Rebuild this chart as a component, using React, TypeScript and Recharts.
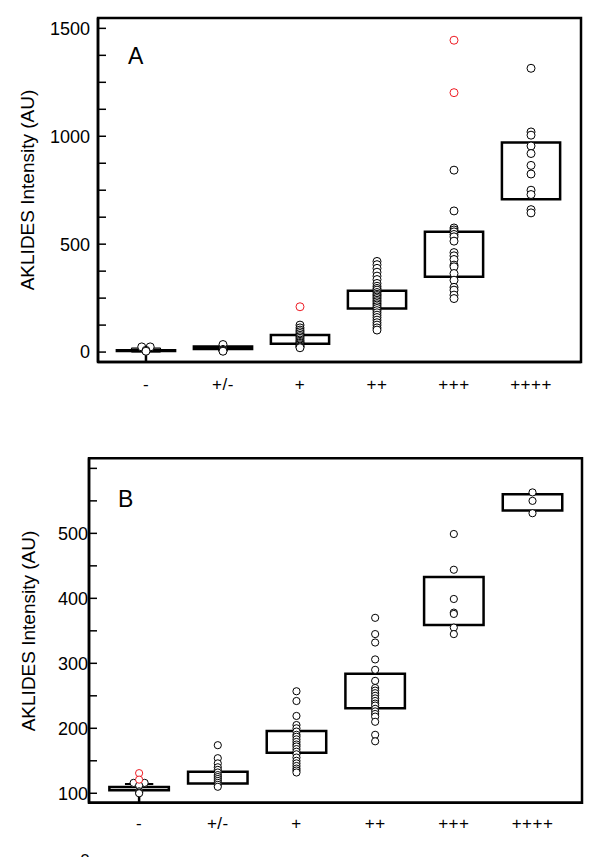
import React from "react";
import { ComposedChart, Scatter, XAxis, YAxis, ReferenceArea, ReferenceLine } from "recharts";

const categories = ["-", "+/-", "+", "++", "+++", "++++"];
const catIndex = [0, 1, 2, 3, 4, 5];
const yLabel = "AKLIDES Intensity (AU)";

// ---------- Panel A ----------
const aBoxLow = [5, 14, 38, 202, 349, 708];
const aBoxHigh = [9, 26, 79, 284, 557, 971];
const aPoints = [
  [24, 24, 8, 4],
  [35, 12, 10, 8, 6, 4],
  [125, 112, 102, 94, 86, 78, 71, 64, 56, 50, 44, 40, 34, 28, 24, 20],
  [420, 405, 388, 370, 352, 336, 318, 305, 295, 287, 276, 268, 262, 255, 248, 240, 233, 225, 218, 210, 202, 192, 182, 171, 160, 148, 136, 125, 112, 102],
  [843, 654, 575, 566, 557, 545, 534, 514, 461, 446, 429, 403, 395, 364, 333, 300, 287, 264, 248],
  [1315, 1020, 1005, 955, 920, 865, 825, 750, 730, 660, 645],
];
const aRed = [[], [], [210], [], [1445, 1202], []];
const aNegJitter = [-0.055, 0.055, 0, 0];
const aNegCore = [0, 19];
const aWhisker = [0, -46];
const aYTicks = [0, 125, 250, 375, 500, 625, 750, 875, 1000, 1125, 1250, 1375, 1500];
const aYDomain: [number, number] = [-46, 1548];

// ---------- Panel B ----------
const bBoxLow = [104.5, 115, 162.5, 231, 359, 535];
const bBoxHigh = [109.5, 133, 196, 284, 433, 560];
const bPoints = [
  [116, 116, 112, 103, 101, 100],
  [174, 154, 146, 140, 136, 132, 128, 125, 122, 119, 116, 113, 110],
  [257, 242, 219, 205, 200, 195, 190, 187, 183, 179, 175, 172, 168, 164, 160, 155, 150, 146, 142, 138, 135, 132],
  [370, 345, 332, 306, 290, 273, 262, 258, 254, 250, 246, 242, 238, 235, 230, 226, 222, 218, 210, 190, 180],
  [499, 444, 399, 378, 376, 355, 345],
  [563, 550, 531],
];
const bRed = [[131, 121], [], [], [], [], []];
const bNegJitter = [-0.07, 0.07, 0, 0, 0, 0];
const bNegCap = 114.3;
const bWhisker = [104.5, 85.5];
const bYTicks = [100, 150, 200, 250, 300, 350, 400, 450, 500, 550, 600];
const bYDomain: [number, number] = [85.5, 615.5];

const FONT = "'Liberation Sans', Arial, sans-serif";

type Pt = { x: number; y: number };
const buildPts = (pts: number[][], jitter?: number[]): Pt[] =>
  pts.flatMap((vals, i) =>
    vals.map((v, j) => ({ x: i + (i === 0 && jitter ? jitter[j] ?? 0 : 0), y: v }))
  );

const circleShape = (color: string, r: number) => (props: any) => {
  if (props.cx == null || props.cy == null) return <g />;
  return <circle cx={props.cx} cy={props.cy} r={r} fill="#fff" stroke={color} strokeWidth={1} />;
};

type PanelProps = {
  height: number;
  margin: { top: number; right: number; bottom: number; left: number };
  yAxisWidth: number;
  xDomain: [number, number];
  yDomain: [number, number];
  yTicks: number[];
  labelEvery: number;
  skipLabel?: number;
  tickMargin: number;
  xTickMargin: number;
  boxLow: number[];
  boxHigh: number[];
  points: number[][];
  red: number[][];
  jitter: number[];
  whisker: number[];
  negCore?: number[];
  negCap?: number;
  r: number;
};

function Panel(p: PanelProps) {
  const black = buildPts(p.points, p.jitter);
  const red = buildPts(p.red);
  const half = 0.378;
  return (
    <ComposedChart width={600} height={p.height} margin={p.margin}>
      <XAxis
        type="number"
        dataKey="x"
        domain={p.xDomain}
        allowDataOverflow
        ticks={catIndex}
        interval={0}
        tickFormatter={(v: number) => categories[v] ?? ""}
        tickLine={false}
        tickSize={0}
        tickMargin={p.xTickMargin}
        axisLine={{ stroke: "#000", strokeWidth: 2.5 }}
        height={40}
        tick={{ fill: "#000", fontSize: 17, fontFamily: FONT, letterSpacing: 0.5 }}
      />
      <YAxis
        type="number"
        dataKey="y"
        domain={p.yDomain}
        allowDataOverflow
        ticks={p.yTicks}
        interval={0}
        width={p.yAxisWidth}
        tickSize={-8}
        tickMargin={p.tickMargin}
        tickLine={{ stroke: "#000", strokeWidth: 1.5 }}
        axisLine={{ stroke: "#000", strokeWidth: 2.5 }}
        tickFormatter={(v: number) =>
          v % p.labelEvery === 0 && v !== p.skipLabel ? String(v) : ""
        }
        tick={{ fill: "#000", fontSize: 18, fontFamily: FONT }}
      />
      <ReferenceArea
        x1={p.xDomain[0]}
        x2={p.xDomain[1]}
        y1={p.yDomain[0]}
        y2={p.yDomain[1]}
        fill="none"
        stroke="#000"
        strokeWidth={2.5}
        ifOverflow="visible"
      />
      <ReferenceLine
        segment={[
          { x: 0, y: p.whisker[0] },
          { x: 0, y: p.whisker[1] },
        ]}
        stroke="#000"
        strokeWidth={2.5}
        ifOverflow="visible"
      />
      {p.negCore ? (
        <ReferenceArea
          x1={-half / 2}
          x2={half / 2}
          y1={p.negCore[0]}
          y2={p.negCore[1]}
          fill="#000"
          stroke="#000"
          strokeWidth={1}
          ifOverflow="visible"
        />
      ) : null}
      {p.negCap != null ? (
        <ReferenceLine
          segment={[
            { x: -0.18, y: p.negCap },
            { x: 0.18, y: p.negCap },
          ]}
          stroke="#000"
          strokeWidth={2}
          ifOverflow="visible"
        />
      ) : null}
      {catIndex.map((i) => (
        <ReferenceArea
          key={"box" + i}
          x1={i - half}
          x2={i + half}
          y1={p.boxLow[i]}
          y2={p.boxHigh[i]}
          fill="none"
          stroke="#000"
          strokeWidth={2.5}
          ifOverflow="visible"
        />
      ))}
      <Scatter data={black} dataKey="y" isAnimationActive={false} shape={circleShape("#000", p.r)} />
      <Scatter data={red} dataKey="y" isAnimationActive={false} shape={circleShape("#ee1c24", p.r)} />
    </ComposedChart>
  );
}

export default function App() {
  return (
    <div
      style={{
        position: "absolute",
        left: 0,
        top: 0,
        width: 600,
        height: 857,
        background: "#fff",
        overflow: "hidden",
        fontFamily: FONT,
      }}
    >
      <div style={{ position: "absolute", left: 0, top: 0 }}>
        <Panel
          height={420}
          margin={{ top: 18, right: 19, bottom: 18, left: 0 }}
          yAxisWidth={98}
          xDomain={[-0.623, 5.649]}
          yDomain={aYDomain}
          yTicks={aYTicks}
          labelEvery={500}
          tickMargin={16}
          xTickMargin={16}
          boxLow={aBoxLow}
          boxHigh={aBoxHigh}
          points={aPoints}
          red={aRed}
          jitter={aNegJitter}
          whisker={aWhisker}
          negCore={aNegCore}
          r={4}
        />
      </div>
      <div style={{ position: "absolute", left: 0, top: 440 }}>
        <Panel
          height={417}
          margin={{ top: 18.3, right: 18, bottom: 14.3, left: 0 }}
          yAxisWidth={89}
          xDomain={[-0.637, 5.629]}
          yDomain={bYDomain}
          yTicks={bYTicks}
          labelEvery={100}
          skipLabel={600}
          tickMargin={9}
          xTickMargin={14}
          boxLow={bBoxLow}
          boxHigh={bBoxHigh}
          points={bPoints}
          red={bRed}
          jitter={bNegJitter}
          whisker={bWhisker}
          negCap={bNegCap}
          r={3.6}
        />
      </div>
      <svg
        width={600}
        height={857}
        style={{ position: "absolute", left: 0, top: 0, pointerEvents: "none" }}
      >
        <text x={128} y={64} fontSize={23} fontFamily={FONT} fill="#000">A</text>
        <text x={118} y={507} fontSize={23} fontFamily={FONT} fill="#000">B</text>
        <text
          x={27}
          y={190}
          fontSize={19}
          fontFamily={FONT}
          fill="#000"
          textAnchor="middle"
          dominantBaseline="central"
          transform="rotate(-90, 27, 190)"
        >
          {yLabel}
        </text>
        <text
          x={28}
          y={631}
          fontSize={19}
          fontFamily={FONT}
          fill="#000"
          textAnchor="middle"
          dominantBaseline="central"
          transform="rotate(-90, 28, 631)"
        >
          {yLabel}
        </text>
        <text x={85} y={866} fontSize={17} fontFamily={FONT} fill="#000" textAnchor="middle">0</text>
      </svg>
    </div>
  );
}
